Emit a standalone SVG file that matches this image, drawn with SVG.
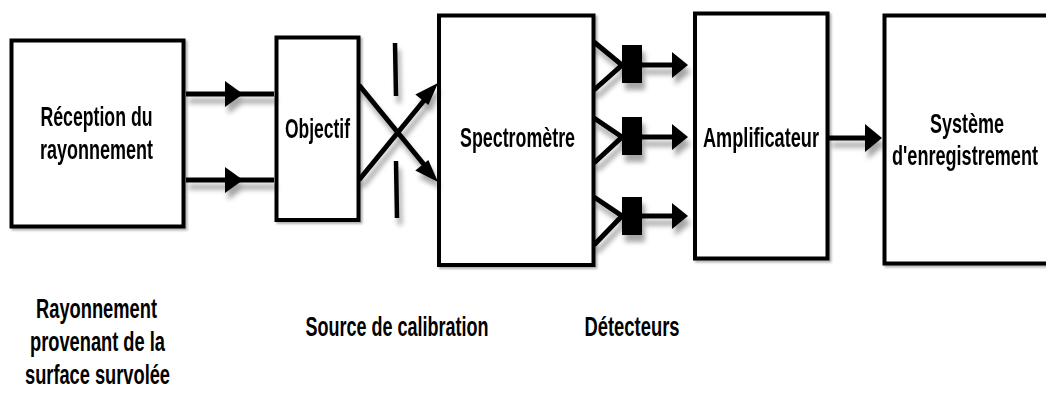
<svg xmlns="http://www.w3.org/2000/svg" width="1046" height="394" viewBox="0 0 1046 394">
<defs>
<style>
.box{fill:#fff;stroke:#000;stroke-width:4}
.ln{stroke:#000;stroke-width:5;fill:none}
.slit{stroke:#000;stroke-width:4.5;fill:none}
.head{fill:#000}
.t{font-family:"Liberation Sans",Arial,sans-serif;font-weight:bold;font-size:27px;fill:#000;text-anchor:middle}
</style>
<filter id="sh" filterUnits="userSpaceOnUse" x="0" y="0" width="1046" height="394">
<feDropShadow dx="3" dy="7" stdDeviation="2.5" flood-color="#000" flood-opacity="0.35"/>
</filter>
<filter id="bsh" filterUnits="userSpaceOnUse" x="0" y="0" width="1046" height="394">
<feDropShadow dx="2" dy="2" stdDeviation="1.2" flood-color="#000" flood-opacity="0.3"/>
</filter>
</defs>
<rect width="1046" height="394" fill="#fff"/>

<g id="reception" filter="url(#bsh)">
<rect class="box" x="11.5" y="40.5" width="172" height="186"/>
<text class="t" x="96.5" y="126" textLength="112" lengthAdjust="spacingAndGlyphs">Réception du</text>
<text class="t" x="96.5" y="159" textLength="113" lengthAdjust="spacingAndGlyphs">rayonnement</text>
</g>

<g id="objectif" filter="url(#bsh)">
<rect class="box" x="276.5" y="37.5" width="82" height="182.5"/>
<text class="t" x="317.5" y="138" textLength="65" lengthAdjust="spacingAndGlyphs">Objectif</text>
</g>

<g id="spectrometre" filter="url(#bsh)">
<rect class="box" x="439" y="15.5" width="154.5" height="249.5"/>
<text class="t" x="517.5" y="147" textLength="115" lengthAdjust="spacingAndGlyphs">Spectromètre</text>
</g>

<g id="amplificateur" filter="url(#bsh)">
<rect class="box" x="695" y="13.5" width="132.5" height="245"/>
<text class="t" x="761" y="147" textLength="116" lengthAdjust="spacingAndGlyphs">Amplificateur</text>
</g>

<g id="systeme" filter="url(#bsh)">
<rect class="box" x="884.5" y="15.5" width="175" height="248"/>
<text class="t" x="967" y="133" textLength="74" lengthAdjust="spacingAndGlyphs">Système</text>
<text class="t" x="965" y="165" textLength="146" lengthAdjust="spacingAndGlyphs">d'enregistrement</text>
</g>

<g id="calibration" filter="url(#sh)">
<line class="slit" x1="395" y1="43" x2="396" y2="96"/>
<line class="slit" x1="396" y1="161" x2="397" y2="218"/>
</g>

<g id="detecteurs" filter="url(#sh)">
<rect x="622" y="45" width="20" height="38" fill="#000"/>
<rect x="622" y="117" width="20" height="38" fill="#000"/>
<rect x="622" y="197" width="20" height="38" fill="#000"/>
</g>

<g id="connectors" filter="url(#sh)">
<line class="ln" x1="186" y1="94" x2="274" y2="94"/>
<polygon class="head" points="225,81 243,94 225,107"/>
<line class="ln" x1="186" y1="180" x2="274" y2="180"/>
<polygon class="head" points="225,167 243,180 225,193"/>

<line class="ln" x1="359" y1="85" x2="426" y2="167"/>
<polygon class="head" points="438,182 415.3,170.6 428.4,160.1"/>
<line class="ln" x1="359" y1="180" x2="426" y2="98"/>
<polygon class="head" points="438,83 428.4,104.9 415.3,94.4"/>

<polyline class="ln" points="594,42 622,65 594,90"/>
<line class="ln" x1="642" y1="65" x2="674" y2="65"/>
<polygon class="head" points="672,52 688,65 672,78"/>

<polyline class="ln" points="594,118 622,137 594,163"/>
<line class="ln" x1="642" y1="137" x2="674" y2="137"/>
<polygon class="head" points="672,124 688,137 672,150"/>

<polyline class="ln" points="594,197 622,216 594,245"/>
<line class="ln" x1="642" y1="216" x2="674" y2="216"/>
<polygon class="head" points="672,203 688,216 672,229"/>

<line class="ln" x1="829" y1="138" x2="867" y2="138"/>
<polygon class="head" points="865,124 882,138 865,152"/>
</g>

<g id="labels">
<text class="t" x="96.5" y="318" textLength="121" lengthAdjust="spacingAndGlyphs">Rayonnement</text>
<text class="t" x="97.5" y="351" textLength="135" lengthAdjust="spacingAndGlyphs">provenant de la</text>
<text class="t" x="97.5" y="384" textLength="145" lengthAdjust="spacingAndGlyphs">surface survolée</text>
<text class="t" x="397" y="336" textLength="183" lengthAdjust="spacingAndGlyphs">Source de calibration</text>
<text class="t" x="632" y="336" textLength="95" lengthAdjust="spacingAndGlyphs">Détecteurs</text>
</g>
</svg>
